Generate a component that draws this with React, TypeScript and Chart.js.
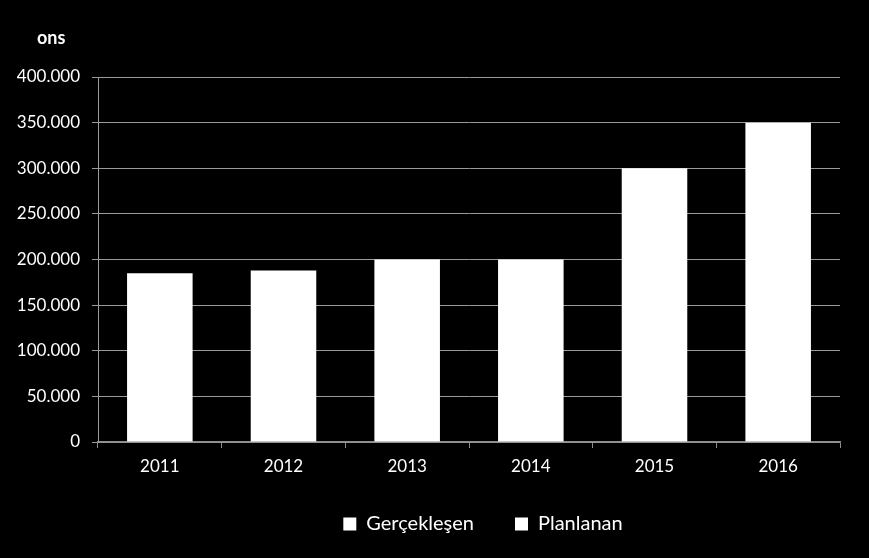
import React, { useEffect, useRef } from "react";
import { Chart, registerables } from "chart.js";

Chart.register(...registerables);

const categories = ["2011", "2012", "2013", "2014", "2015", "2016"];
const actualValues = [185000, 188000, 200000, 200000, null, null];
const plannedValues = [null, null, null, null, 300000, 350000];
const seriesNames = ["Gerçekleşen", "Planlanan"];
const unitLabel = "ons";

const FONT = "Lato, 'Open Sans', sans-serif";

const fmt = (v: number) =>
  v === 0 ? "0" : Math.round(v).toString().replace(/\B(?=(\d{3})+(?!\d))/g, ".");

export default function App() {
  const ref = useRef<HTMLCanvasElement | null>(null);
  useEffect(() => {
    document.body.style.margin = "0";
    document.body.style.background = "#000";
    const unitPlugin = {
      id: "unitLabel",
      afterDraw(chart: any) {
        const ctx = chart.ctx;
        ctx.save();
        ctx.fillStyle = "#ffffff";
        ctx.font = `bold 18px ${FONT}`;
        ctx.textAlign = "left";
        ctx.textBaseline = "middle";
        ctx.fillText(unitLabel, 37, 38);
        ctx.restore();
      },
    };
    const legendShift = {
      id: "legendShift",
      afterLayout(chart: any) {
        if (chart.legend) {
          chart.legend.left += 63;
          chart.legend.right += 63;
        }
      },
    };
    const chart = new Chart(ref.current!, {
      type: "bar",
      data: {
        labels: categories,
        datasets: [
          {
            label: seriesNames[0],
            data: actualValues,
            backgroundColor: "#ffffff",
            borderColor: "#9a9a9a",
            borderWidth: 0,
            barPercentage: 0.53,
            categoryPercentage: 1,
            stack: "s",
          },
          {
            label: seriesNames[1],
            data: plannedValues,
            backgroundColor: "#ffffff",
            borderColor: "#9a9a9a",
            borderWidth: 0,
            barPercentage: 0.53,
            categoryPercentage: 1,
            stack: "s",
          },
        ] as any,
      },
      options: {
        animation: false,
        responsive: false,
        maintainAspectRatio: false,
        layout: { padding: { top: 77, right: 29, left: 0, bottom: 14 } },
        plugins: {
          legend: {
            position: "bottom",
            labels: {
              color: "#ffffff",
              font: { family: FONT, size: 20 },
              boxWidth: 13,
              boxHeight: 13,
              padding: 41,
              useBorderRadius: false,
            },
          },
          tooltip: { enabled: false },
        },
        scales: {
          x: {
            stacked: true,
            grid: {
              display: true,
              drawOnChartArea: false,
              drawTicks: true,
              tickLength: 6,
              color: "#8c8c8c",
              offset: true,
            },
            border: { display: true, color: "#8c8c8c", width: 1.5 },
            ticks: { color: "#ffffff", font: { family: FONT, size: 17 }, padding: 8 },
            afterFit(scale: any) {
              scale.height = 31;
            },
          },
          y: {
            stacked: true,
            min: 0,
            max: 400000,
            grid: {
              color: "#9a9a9a",
              tickLength: 6,
              drawTicks: true,
            },
            border: { display: true, color: "#9a9a9a" },
            ticks: {
              stepSize: 50000,
              color: "#ffffff",
              font: { family: FONT, size: 17 },
              padding: 12,
              callback: (v: any) => fmt(Number(v)),
            },
            afterFit(scale: any) {
              scale.width = 98;
            },
          },
        },
      },
      plugins: [unitPlugin, legendShift],
    } as any);
    return () => chart.destroy();
  }, []);
  return (
    <div style={{ position: "absolute", left: 0, top: 0, width: 869, height: 558, background: "#000" }}>
      <canvas ref={ref} width={869} height={558} style={{ display: "block" }} />
    </div>
  );
}
